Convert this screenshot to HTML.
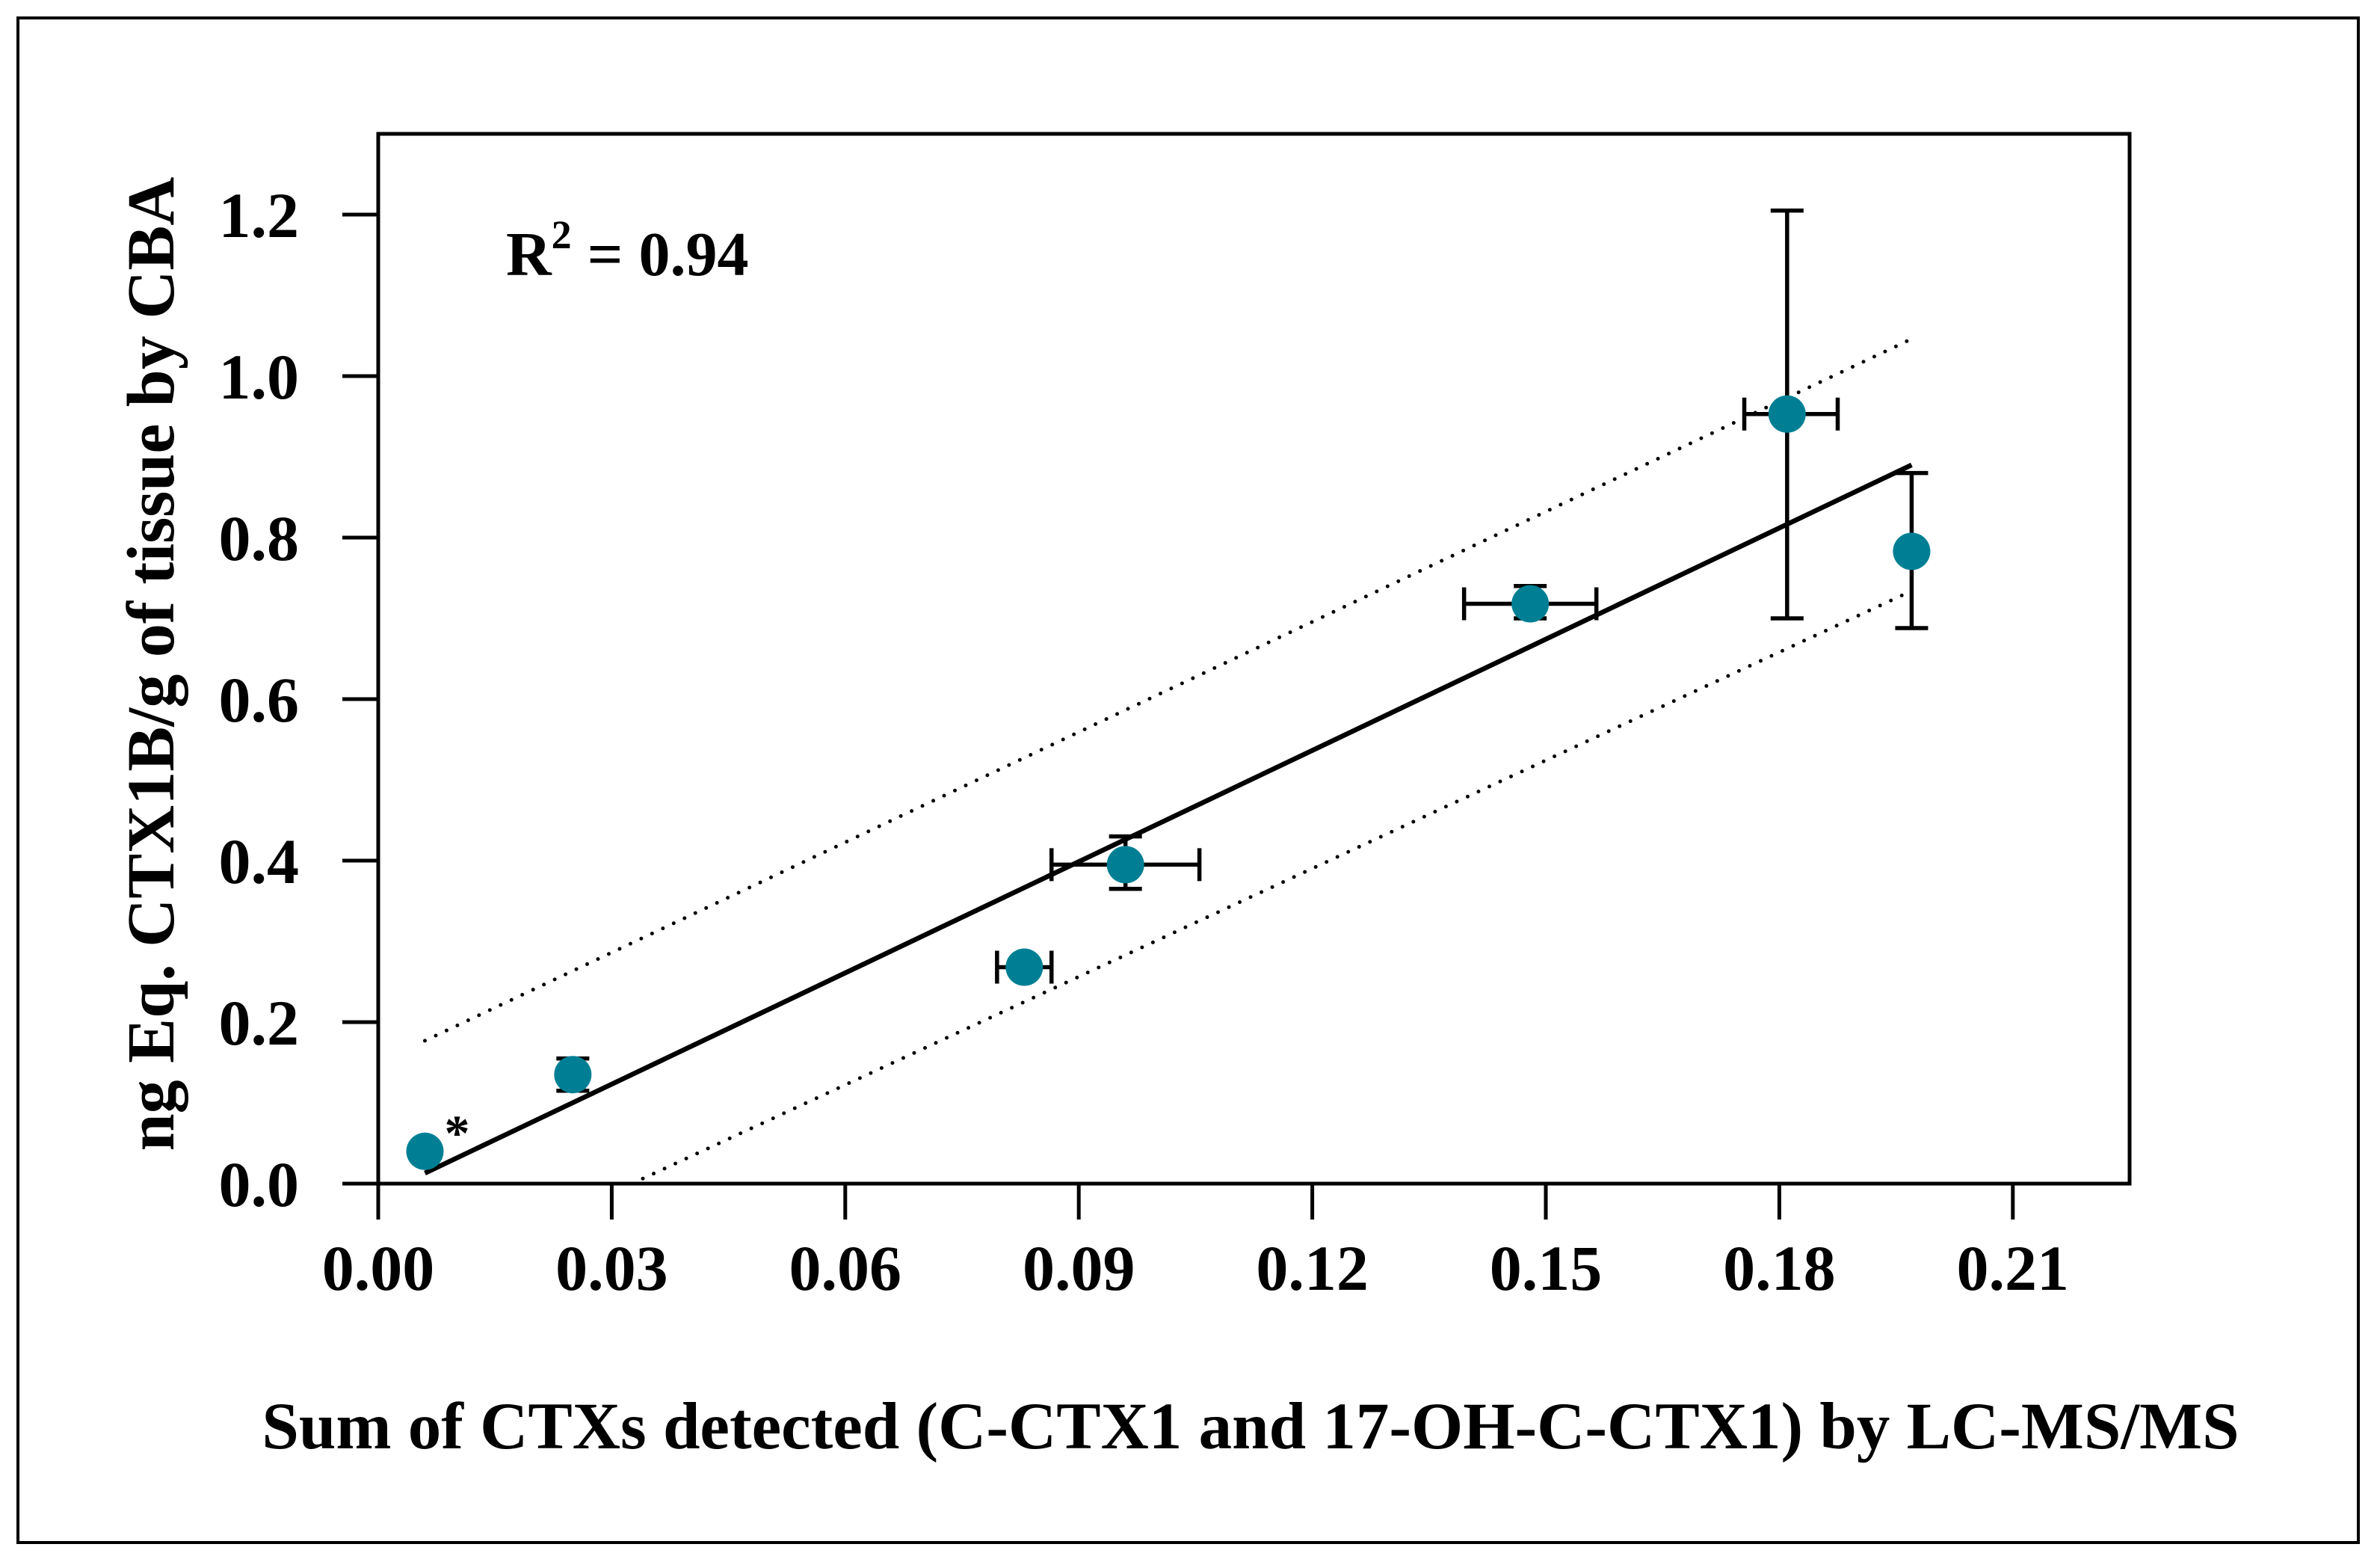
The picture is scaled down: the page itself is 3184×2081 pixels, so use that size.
<!DOCTYPE html>
<html><head><meta charset="utf-8"><style>
html,body{margin:0;padding:0;background:#fff}
svg{display:block}
text{font-family:"Liberation Serif",serif;font-weight:bold;fill:#000}
</style></head><body>
<svg id="chart" width="3184" height="2081" viewBox="0 0 3184 2081" xmlns="http://www.w3.org/2000/svg">
<rect x="24" y="24" width="3131" height="2039" fill="none" stroke="#000" stroke-width="4"/>
<g id="plot"></g>
</svg>
<script>
const xVals=[0.006,0.025,0.083,0.096,0.148,0.181,0.197];
const yVals=[0.040,0.135,0.268,0.395,0.718,0.953,0.783];
const yErrLo=[0,0.115,0,0.365,0.700,0.700,0.688];
const yErrHi=[0,0.155,0,0.430,0.740,1.205,0.880];
const xErrLo=[0,0,0.0795,0.0865,0.1395,0.1755,0];
const xErrHi=[0,0,0.0865,0.1055,0.1565,0.1875,0];
const xTicks=[0,0.03,0.06,0.09,0.12,0.15,0.18,0.21];
const xTickLabels=["0.00","0.03","0.06","0.09","0.12","0.15","0.18","0.21"];
const yTicks=[0,0.2,0.4,0.6,0.8,1.0,1.2];
const yTickLabels=["0.0","0.2","0.4","0.6","0.8","1.0","1.2"];
const fitX=[0.006,0.197];
const fitY=[0.013,0.890];
const upperX=[0.006,0.197];
const upperY=[0.177,1.046];
const lowerX=[0.0326,0.197];
const lowerY=[0.0,0.734];

const L=506,R=2849,T=179,B=1583;
const sx=v=>L+v/0.03*312.4;
const sy=v=>B-v/0.2*216;
const g=document.getElementById('plot');
const NS='http://www.w3.org/2000/svg';
function mk(tag,attrs){const e=document.createElementNS(NS,tag);for(const k in attrs)e.setAttribute(k,attrs[k]);g.appendChild(e);return e;}

let ax=mk('path',{d:`M${L},${T}H${R}V${B}H${L}Z`,fill:'none',stroke:'#000','stroke-width':5});


xTicks.forEach((v,i)=>{
  const t=mk('line',{x1:sx(v),x2:sx(v),y1:B,y2:B+48,stroke:'#000','stroke-width':5});
  
  
  const tx=mk('text',{x:sx(v),y:1725,'font-size':86,'text-anchor':'middle'});
  tx.textContent=xTickLabels[i];
  
  
});
yTicks.forEach((v,i)=>{
  const t=mk('line',{x1:L-48,x2:L,y1:sy(v),y2:sy(v),stroke:'#000','stroke-width':5});
  
  
  const tx=mk('text',{x:400,y:sy(v)+30,'font-size':86,'text-anchor':'end'});
  tx.textContent=yTickLabels[i];
  
  
});
function poly(xs,ys){return xs.map((x,i)=>`${i?'L':'M'}${sx(x)},${sy(ys[i])}`).join('');}
let up=mk('path',{d:poly(upperX,upperY),fill:'none',stroke:'#000','stroke-width':5,'stroke-dasharray':'0 16','stroke-linecap':'round'});


let lo=mk('path',{d:poly(lowerX,lowerY),fill:'none',stroke:'#000','stroke-width':5,'stroke-dasharray':'0 16','stroke-linecap':'round'});


let fit=mk('path',{d:poly(fitX,fitY),fill:'none',stroke:'#000','stroke-width':6.5});


xVals.forEach((x,i)=>{
  if(yErrHi[i]>0){
    const e=mk('path',{d:`M${sx(x)},${sy(yErrLo[i])}V${sy(yErrHi[i])}M${sx(x)-22},${sy(yErrLo[i])}h44M${sx(x)-22},${sy(yErrHi[i])}h44`,stroke:'#000','stroke-width':5.5,fill:'none'});
    
    
  }
  if(xErrHi[i]>0){
    const e=mk('path',{d:`M${sx(xErrLo[i])},${sy(yVals[i])}H${sx(xErrHi[i])}M${sx(xErrLo[i])},${sy(yVals[i])-22}v44M${sx(xErrHi[i])},${sy(yVals[i])-22}v44`,stroke:'#000','stroke-width':5.5,fill:'none'});
    
    
  }
});
xVals.forEach((x,i)=>{
  const c=mk('circle',{cx:sx(x),cy:sy(yVals[i]),r:25,fill:'#007f94'});
  
  
});
let ast=mk('text',{x:sx(xVals[0])+26,y:sy(yVals[0])-2,'font-size':68});
ast.textContent='*';


</script>
<svg style="position:absolute;left:0;top:0" width="3184" height="2081" xmlns="http://www.w3.org/2000/svg">
<text x="677" y="368" font-size="84">R<tspan font-size="54" dy="-36">2</tspan><tspan dy="36"> = 0.94</tspan></text>
<text transform="translate(232,888) rotate(-90)" font-size="90" text-anchor="middle">ng Eq. CTX1B/g of tissue by CBA</text>
<text x="1673" y="1937" font-size="89" text-anchor="middle">Sum of CTXs detected (C-CTX1 and 17-OH-C-CTX1) by LC-MS/MS</text>
</svg>
</body></html>
